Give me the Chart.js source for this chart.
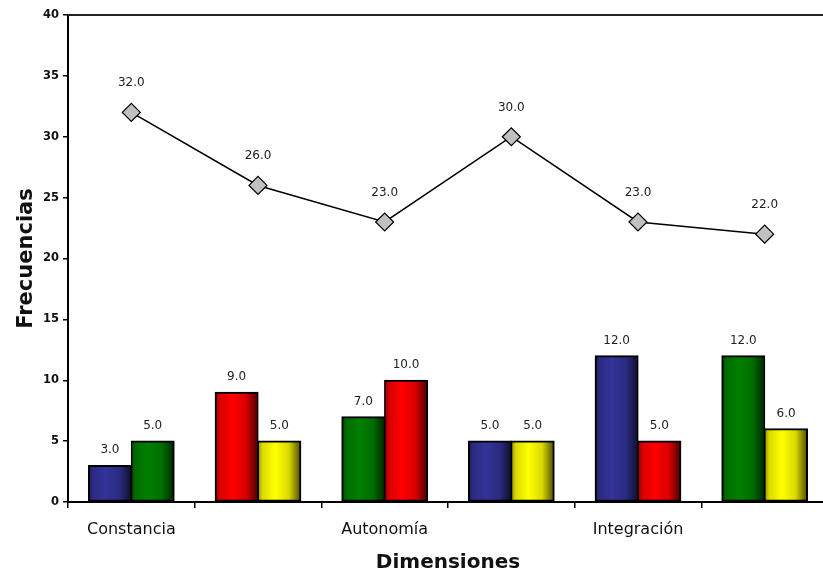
<!DOCTYPE html>
<html>
<head>
<meta charset="utf-8">
<script src="https://cdn.jsdelivr.net/npm/chart.js@4/dist/chart.umd.min.js"></script>
<style>
  html, body { margin: 0; padding: 0; background: #fff; }
  #wrap { width: 823px; height: 576px; overflow: hidden; position: relative; }
  #box { width: 850px; height: 576px; position: absolute; left: 0; top: 0; }
</style>
</head>
<body>
<div id="wrap"><div id="box"><canvas id="c"></canvas></div></div>
<script>
// Dimensions on the category axis (only every other one carries a name)
const categories = ['Constancia', '', 'Autonomía', '', 'Integración', ''];
// Left and right bar of each dimension, and the colour family of each bar
const leftValues  = [3, 9, 7, 5, 12, 12];
const rightValues = [5, 5, 10, 5, 5, 6];
const leftColors  = ['blue', 'red', 'green', 'blue', 'blue', 'green'];
const rightColors = ['green', 'yellow', 'red', 'yellow', 'red', 'yellow'];
// Totals plotted as the line
const lineValues  = [32, 26, 23, 30, 23, 22];
const yTicks = [0, 5, 10, 15, 20, 25, 30, 35, 40];

const palette = {
  blue:   [51, 51, 153],
  green:  [0, 128, 0],
  red:    [255, 0, 0],
  yellow: [255, 255, 0]
};
const shade = (c, f) => `rgb(${Math.round(c[0]*f)},${Math.round(c[1]*f)},${Math.round(c[2]*f)})`;
const flat = name => shade(palette[name], 1);
const FONT = '"DejaVu Sans", Verdana, sans-serif';

// Cylinder-like horizontal shading for every bar, computed from its drawn geometry
const barShading = {
  id: 'barShading',
  beforeDatasetsDraw(chart) {
    const ctx = chart.ctx;
    chart.data.datasets.forEach((ds, di) => {
      if (ds.type === 'line') return;
      const meta = chart.getDatasetMeta(di);
      meta.data.forEach((bar, i) => {
        const c = palette[ds.colorNames[i]];
        const x0 = bar.x - bar.width / 2, x1 = bar.x + bar.width / 2;
        const g = ctx.createLinearGradient(x0, 0, x1, 0);
        g.addColorStop(0, shade(c, 0.55));
        g.addColorStop(0.1, shade(c, 0.85));
        g.addColorStop(0.4, shade(c, 1));
        g.addColorStop(0.72, shade(c, 0.85));
        g.addColorStop(1, shade(c, 0.3));
        bar.options.backgroundColor = g;
      });
    });
  }
};

// Top frame line of the plot area and value labels
const extras = {
  id: 'extras',
  afterDraw(chart) {
    const ctx = chart.ctx, a = chart.chartArea;
    ctx.save();
    ctx.strokeStyle = '#222';
    ctx.lineWidth = 2;
    ctx.beginPath();
    ctx.moveTo(a.left, a.top);
    ctx.lineTo(a.right, a.top);
    ctx.lineTo(a.right, a.bottom);
    ctx.stroke();
    ctx.fillStyle = '#222';
    ctx.font = '12px ' + FONT;
    ctx.textAlign = 'center';
    ctx.textBaseline = 'alphabetic';
    chart.data.datasets.forEach((ds, di) => {
      const meta = chart.getDatasetMeta(di);
      meta.data.forEach((el, i) => {
        const v = ds.data[i];
        const off = ds.type === 'line' ? 26 : 12;
        ctx.fillText(v.toFixed(1), el.x, el.y - off);
      });
    });
    ctx.restore();
  }
};

new Chart(document.getElementById('c'), {
  type: 'bar',
  data: {
    labels: categories,
    datasets: [
      {
        type: 'line',
        data: lineValues,
        borderColor: '#000',
        borderWidth: 1.5,
        pointStyle: 'rectRot',
        pointRadius: 9,
        pointBackgroundColor: '#c0c0c0',
        pointBorderColor: '#000',
        pointBorderWidth: 1.2,
        tension: 0,
        order: 0
      },
      {
        data: leftValues,
        colorNames: leftColors,
        backgroundColor: leftColors.map(flat),
        borderColor: '#000',
        borderWidth: { left: 2, top: 2, right: 1.5, bottom: 2 },
        borderSkipped: false,
        inflateAmount: 0.6,
        order: 1
      },
      {
        data: rightValues,
        colorNames: rightColors,
        backgroundColor: rightColors.map(flat),
        borderColor: '#000',
        borderWidth: { left: 1.5, top: 2, right: 2, bottom: 2 },
        borderSkipped: false,
        inflateAmount: 0.6,
        order: 1
      }
    ]
  },
  options: {
    responsive: true,
    maintainAspectRatio: false,
    animation: false,
    datasets: { bar: { categoryPercentage: 0.675, barPercentage: 1.0 } },
    layout: { padding: { top: 15, right: 22, left: 0, bottom: 0 } },
    plugins: { legend: { display: false }, tooltip: { enabled: false } },
    scales: {
      x: {
        grid: { offset: true, drawOnChartArea: false, drawTicks: true, tickLength: 6, color: '#000', lineWidth: 1.5 },
        border: { color: '#000', width: 2 },
        ticks: {
          autoSkip: false, maxRotation: 0, color: '#111', padding: 12,
          font: { family: FONT, size: 16 }
        },
        title: {
          display: true, text: 'Dimensiones', color: '#111',
          font: { family: FONT, size: 20, weight: 'bold' },
          padding: { top: 0, bottom: 1 }
        },
        afterFit(scale) { scale.height = 74; }
      },
      y: {
        min: 0, max: 40,
        afterBuildTicks(scale) { scale.ticks = yTicks.map(v => ({ value: v })); },
        grid: { drawOnChartArea: false, drawTicks: true, tickLength: 5, color: '#000', lineWidth: 1.5 },
        border: { color: '#000', width: 2 },
        ticks: {
          color: '#111', padding: 4,
          font: { family: FONT, size: 11.5, weight: 'bold' }
        },
        title: {
          display: true, text: 'Frecuencias', color: '#111',
          font: { family: FONT, size: 21, weight: 'bold' },
          padding: { top: 14, bottom: 0 }
        },
        afterFit(scale) { scale.width = 68; }
      }
    }
  },
  plugins: [barShading, extras]
});
</script>
</body>
</html>
